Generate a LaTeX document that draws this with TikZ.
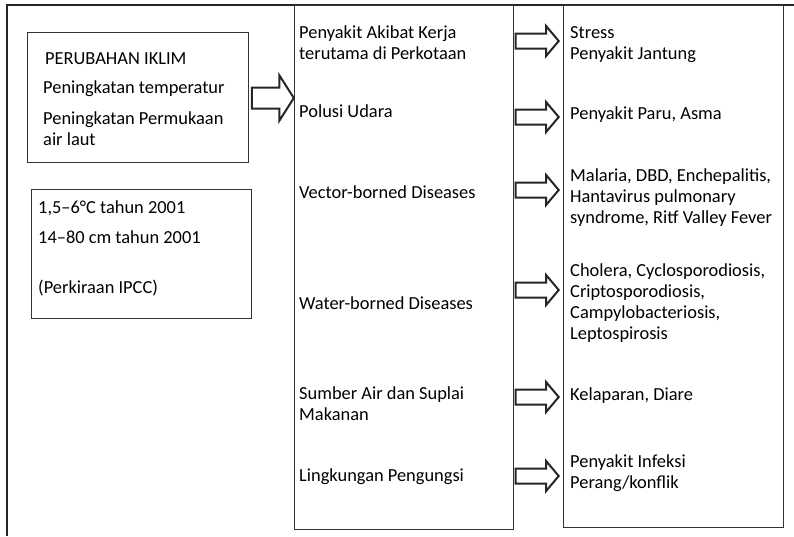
\documentclass[tikz,border=0pt]{standalone}
\usepackage{fontspec}
\setmainfont{Carlito}
\usetikzlibrary{shapes.arrows,positioning}
\tikzset{
  panel/.style={draw=black!80, line width=1pt, anchor=north west, inner sep=0pt},
  txt/.style={anchor=base west, inner sep=0pt, align=left, font=\fontsize{18.4}{21}\selectfont},
  fat/.style={single arrow, draw=black!85, line width=2pt, anchor=tip, single arrow tip angle=100,
    minimum height=43pt, inner sep=6.5pt, single arrow head extend=7.5pt},
  bigfat/.style={fat, single arrow tip angle=115, minimum height=42pt, inner sep=9.5pt, single arrow head extend=12pt}
}

\begin{document}
\begin{tikzpicture}[x=1pt, y=-1pt]
    \useasboundingbox (0,0) rectangle (794,536);
    \draw[line width=1.4pt, black!85] (794,5) -- (7,5) -- (7,536);

    % boxes
    \node[panel, minimum width=221pt, minimum height=130pt] (iklim) at (27,32) {};
    \node[panel, minimum width=220pt, minimum height=129pt] (ipcc) at (31,189) {};
    \node[panel, minimum width=219pt, minimum height=524pt] (dampak) at (294,5) {};
    \node[panel, minimum width=220pt, minimum height=522pt] (penyakit) at (563,5) {};

    % left column (multi-line texts sit on their last baseline)
    \node[txt] (judul) at (45,64) {PERUBAHAN IKLIM};
    \node[txt] (suhu) at (43,93) {Peningkatan temperatur};
    \node[txt] (laut) at (43,145) {Peningkatan Permukaan\\air laut};
    \node[txt] (t1) at (38,213) {1,5–6°C tahun 2001};
    \node[txt] (t2) at (38,243) {14–80 cm tahun 2001};
    \node[txt] (t3) at (38,293) {(Perkiraan IPCC)};

    % middle column
    \node[txt] (d1) at (299,59) {Penyakit Akibat Kerja\\terutama di Perkotaan};
    \node[txt] (d2) at (299,117) {Polusi Udara};
    \node[txt] (d3) at (299,198) {Vector-borned Diseases};
    \node[txt] (d4) at (299,309) {Water-borned Diseases};
    \node[txt] (d5) at (299,420) {Sumber Air dan Suplai\\Makanan};
    \node[txt] (d6) at (299,481) {Lingkungan Pengungsi};

    % right column
    \node[txt] (p1) at (570,59) {Stress\\Penyakit Jantung};
    \node[txt] (p2) at (570,119) {Penyakit Paru, Asma};
    \node[txt] (p3) at (570,223) {Malaria, DBD, Enchepalitis,\\Hantavirus pulmonary\\syndrome, Ritf Valley Fever};
    \node[txt] (p4) at (570,339) {Cholera, Cyclosporodiosis,\\Criptosporodiosis,\\Campylobacteriosis,\\Leptospirosis};
    \node[txt] (p5) at (570,400) {Kelaparan, Diare};
    \node[txt] (p6) at (570,488) {Penyakit Infeksi\\Perang/konflik};

    % block arrows
    \node[bigfat] (a0) at (295,98) {};
    \node[fat] (a1) at (560,41) {};
    \node[fat] (a2) at (560,117) {};
    \node[fat] (a3) at (560,190) {};
    \node[fat] (a4) at (560,290) {};
    \node[fat] (a5) at (560,397) {};
    \node[fat] (a6) at (560,476) {};
\end{tikzpicture}
\end{document}
